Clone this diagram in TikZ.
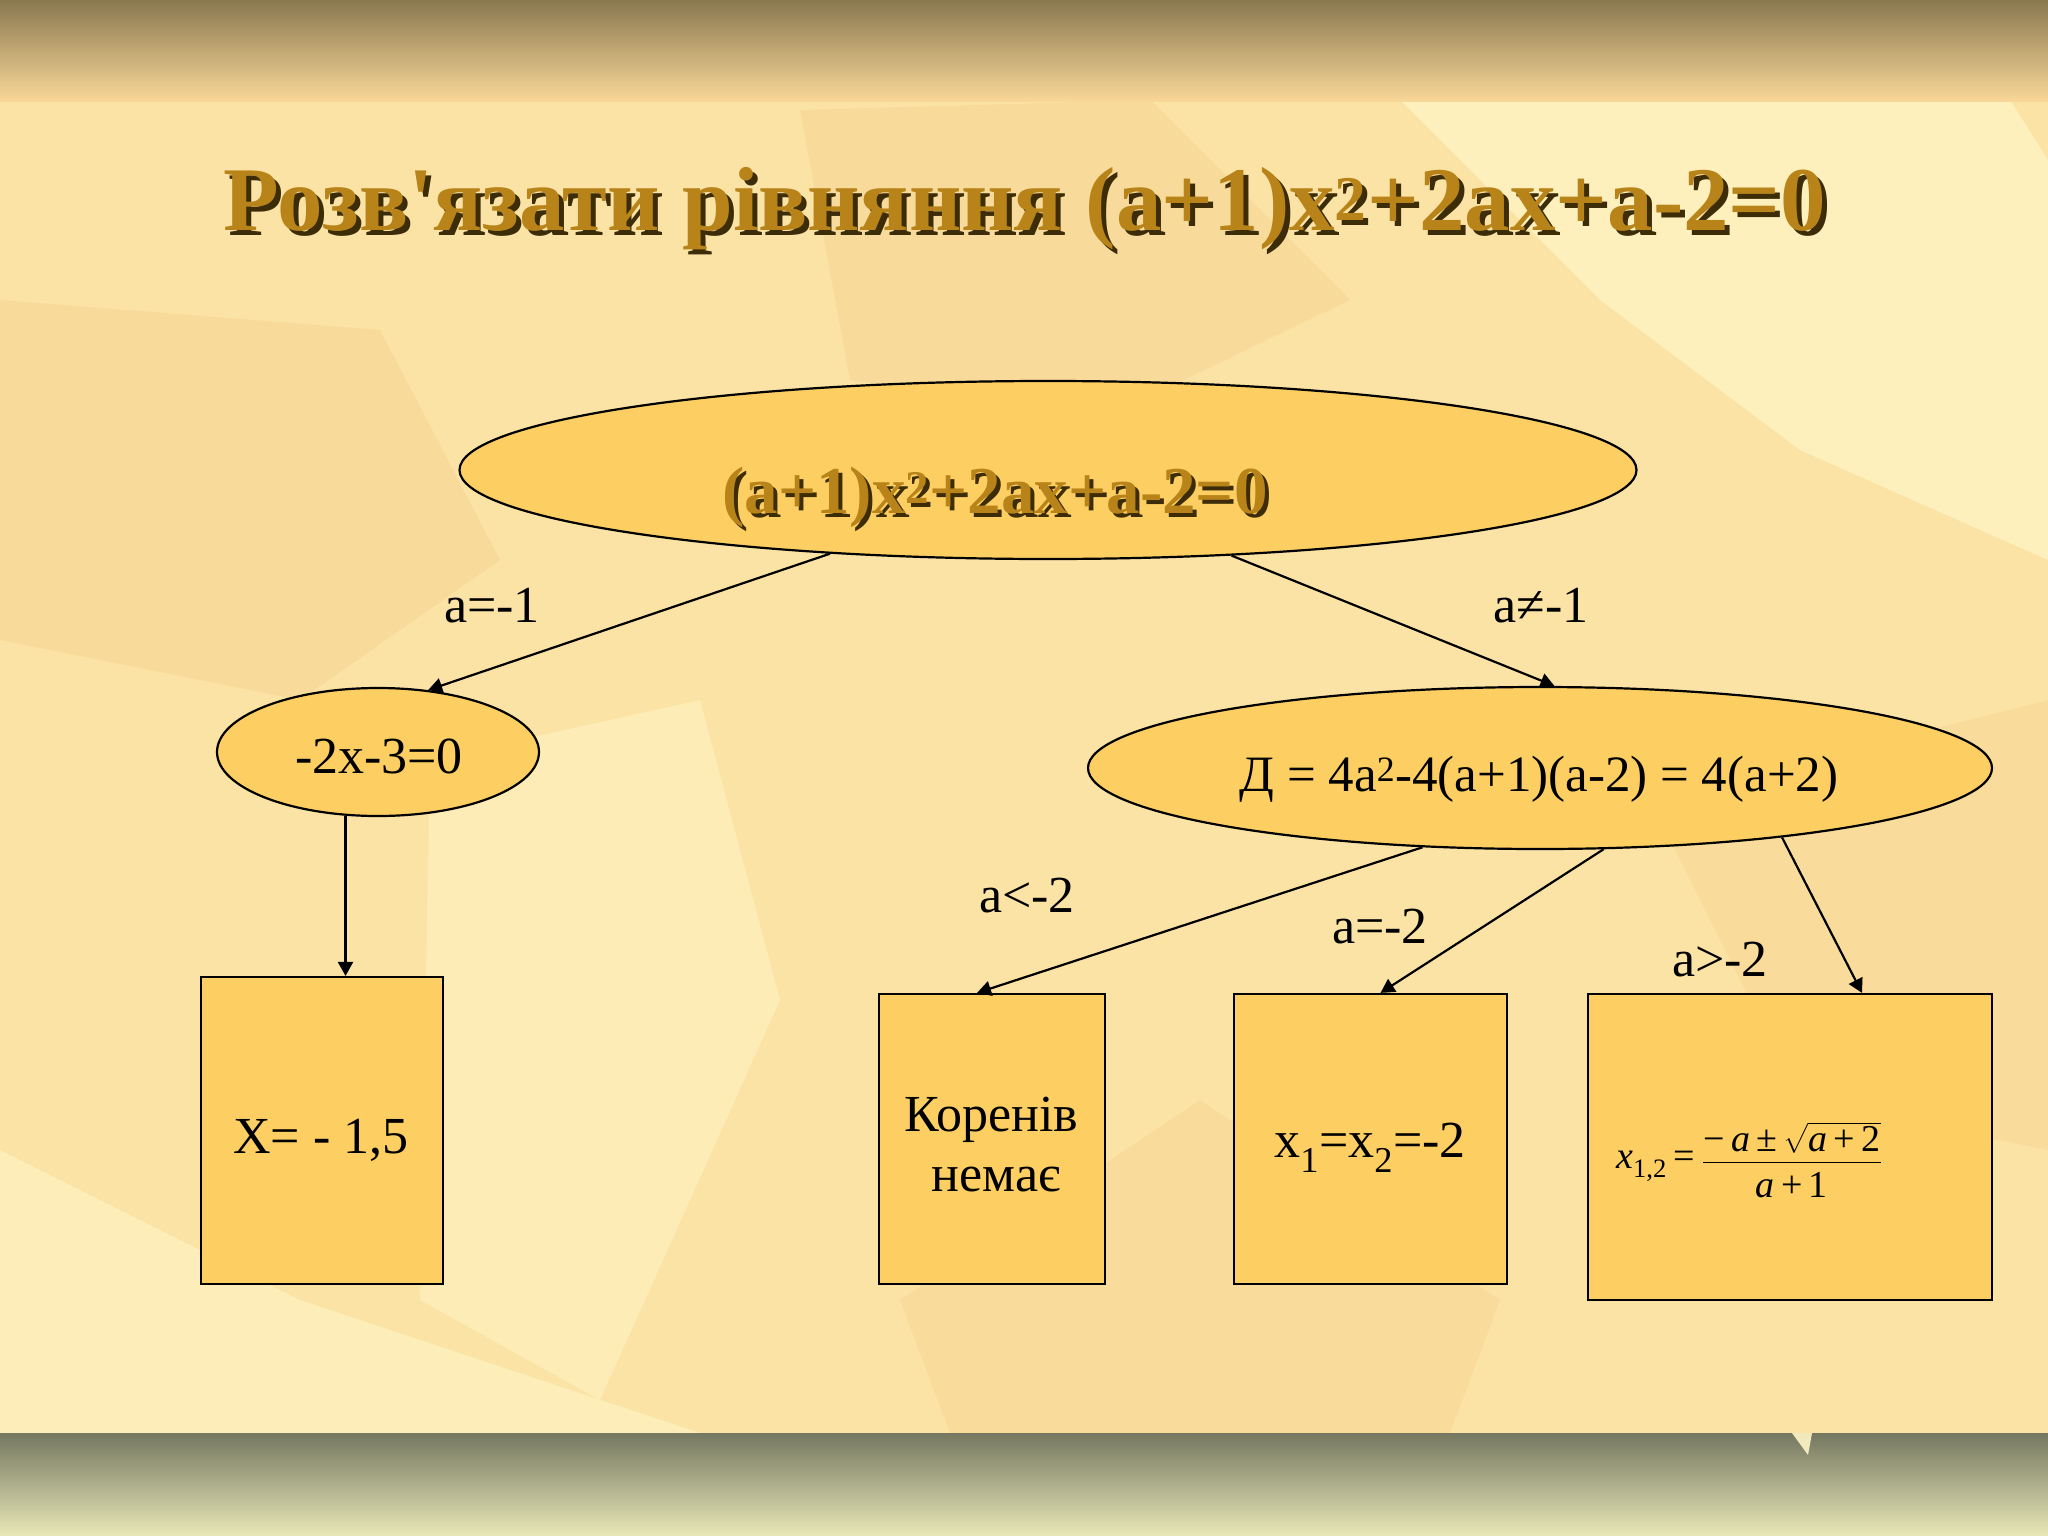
\documentclass[tikz,border=0pt]{standalone}
\usepackage{fontspec}
\setmainfont{Liberation Serif}[Ligatures=TeXOff]
\usepackage{amsmath}
\usetikzlibrary{shapes.geometric,arrows.meta,calc}
\definecolor{bgbase}{HTML}{FBE3A6}
\definecolor{bglight}{HTML}{FFF6C6}
\definecolor{bgdark}{HTML}{F6D08C}
\definecolor{shapefill}{HTML}{FDCF63}
\definecolor{titlegold}{HTML}{B8841A}
\definecolor{titleshadow}{HTML}{3C2C08}
\begin{document}
\begin{tikzpicture}[x=1pt,y=-1pt,
  ell/.style={ellipse,draw=black,line width=2.2pt,fill=shapefill,inner sep=0pt},
  boxnode/.style={rectangle,draw=black,line width=2.2pt,fill=shapefill,inner sep=0pt},
  conn/.style={line width=2.2pt,-{Triangle[length=14pt,width=15pt]}},
  lbl/.style={anchor=base,inner sep=0pt,font=\fontsize{52}{56}\selectfont},
  titletxt/.style={anchor=base,inner sep=0pt,font=\fontsize{91}{96}\selectfont\bfseries},
  toptxt/.style={anchor=base,inner sep=0pt,font=\fontsize{67}{72}\selectfont\bfseries}
]
\useasboundingbox (0,0) rectangle (2048,1536);
% background
\fill[bgbase] (0,0) rectangle (2048,1536);
\fill[bglight,opacity=0.7] (1400,100) -- (2010,100) -- (2048,160) -- (2048,560) -- (1800,450) -- (1600,300) -- cycle;
\fill[bglight,opacity=0.6] (0,1150) -- (300,1300) -- (700,1433) -- (0,1433) -- cycle;
\fill[bglight,opacity=0.5] (430,760) -- (700,700) -- (780,1000) -- (600,1400) -- (420,1300) -- cycle;
\fill[bgdark,opacity=0.45] (0,300) -- (380,330) -- (500,560) -- (300,700) -- (0,640) -- cycle;
\fill[bgdark,opacity=0.45] (800,110) -- (1150,100) -- (1350,300) -- (1100,420) -- (850,380) -- cycle;
\fill[bgdark,opacity=0.4] (900,1300) -- (1200,1100) -- (1500,1300) -- (1450,1433) -- (950,1433) -- cycle;
\fill[bgdark,opacity=0.4] (1650,800) -- (2048,700) -- (2048,1150) -- (1800,1100) -- cycle;
\shade[top color={rgb,255:red,138;green,120;blue,80},bottom color={rgb,255:red,250;green,216;blue,152}] (0,0) rectangle (2048,102);
\shade[top color={rgb,255:red,117;green,119;blue,96},bottom color={rgb,255:red,232;green,232;blue,184}] (0,1433) rectangle (2048,1536);
\fill[bglight,opacity=0.9] (1792,1433) -- (1812,1433) -- (1808,1455) -- cycle;
% title
\node[titletxt,text=titleshadow] (titlesh) at (1030,235) {Розв'язати рівняння (a+1)x\textsuperscript{2}+2ax+a-2=0};
\node[titletxt,text=titlegold] (title) at (1025,230) {Розв'язати рівняння (a+1)x\textsuperscript{2}+2ax+a-2=0};
% shapes
\node[ell,minimum width=1177pt,minimum height=178pt] (top) at (1048,470) {};
\node[ell,minimum width=322pt,minimum height=128pt] (l) at (378,752) {};
\node[ell,minimum width=904pt,minimum height=162pt] (r) at (1540,768) {};
\node[boxnode,minimum width=242pt,minimum height=307pt] (b1) at (322,1130.5) {};
\node[boxnode,minimum width=226pt,minimum height=290pt] (b2) at (992,1139) {};
\node[boxnode,minimum width=273pt,minimum height=290pt] (b3) at (1370.5,1139) {};
\node[boxnode,minimum width=404pt,minimum height=306pt] (b4) at (1790,1147) {};
% texts in shapes
\node[toptxt,text=titleshadow] (topsh) at (999,517) {(a+1)x\textsuperscript{2}+2ax+a-2=0};
\node[toptxt,text=titlegold] (toptext) at (995,513) {(a+1)x\textsuperscript{2}+2ax+a-2=0};
\node[lbl] (ltext) at (379,773) {-2x-3=0};
\node[lbl,font=\fontsize{51}{55}\selectfont] (rtext) at (1539,791) {Д = 4a\textsuperscript{2}-4(a+1)(a-2) = 4(a+2)};
\node[lbl] (b1text) at (321,1153) {X= - 1,5};
\node[lbl] (b2texta) at (991,1131) {Коренів};
\node[lbl] (b2textb) at (996,1191) {немає};
\node[lbl] (b3text) at (1370,1157) {x\textsubscript{1}=x\textsubscript{2}=-2};
\node[inner sep=0pt,font=\fontsize{38}{42}\selectfont] (b4text) at (1749,1160)
  {$\text{\itshape x}_{\text{1,2}} \mathrel{\text{=}} \dfrac{\text{−\,\itshape a\upshape\,±\,}\sqrt{\text{\itshape a\upshape\,+\,2}}\rule[-7pt]{0pt}{7pt}}{\rule{0pt}{32pt}\text{\itshape a\upshape\,+\,1}}$};
% edge labels
\node[lbl] (la1) at (492,622) {a=-1};
\node[lbl] (la2) at (1541,622) {a≠-1};
\node[lbl] (la3) at (1027,912) {a<-2};
\node[lbl] (la4) at (1380,943) {a=-2};
\node[lbl] (la5) at (1720,976) {a>-2};
% connectors
\draw[conn] (top.201) -- (l.51);
\draw[conn] (top.335.6) -- (r.80);
\draw[conn] (l.243) -- (l.243 |- b1.north);
\draw[conn] (r.214.4) -- ($(b2.north)+(-15,0)$);
\draw[conn] (r.308.7) -- ($(b3.north)+(10,0)$);
\draw[conn] (r.344.4) -- ($(b4.north)+(72,0)$);
\end{tikzpicture}
\end{document}
